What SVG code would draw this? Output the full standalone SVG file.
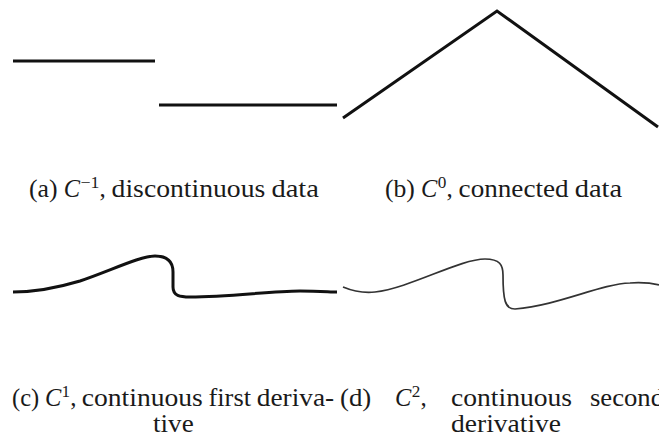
<svg xmlns="http://www.w3.org/2000/svg" width="659" height="436" viewBox="0 0 659 436">
<style>
.cap{font-family:"Liberation Serif","Times New Roman",serif;font-size:25px;fill:#1a1a1a}
.it{font-style:italic}
.sup{font-size:17px}
.thick{fill:none;stroke:#111;stroke-width:3;stroke-linecap:butt}
.thin{fill:none;stroke:#333;stroke-width:1.7}
</style>
<rect width="659" height="436" fill="#fff"/>
<g id="panel-a">
<line class="thick" x1="13" y1="61" x2="155" y2="61"/>
<line class="thick" x1="159" y1="105" x2="337" y2="105"/>
</g>
<g id="panel-b">
<polyline class="thick" stroke-width="2.6" points="343,118 497,11 658,127"/>
</g>
<g id="panel-c">
<path class="thick" d="M13,292 C30,292 50,290 80,281 C110,271 140,256 155,256 C168,256 173,262 173,272 L173,287 C173,296 180,297 190,297 C230,297 270,291 300,291 C320,291 330,292 337,292"/>
</g>
<g id="panel-d">
<path class="thin" d="M343,287 C355,292 365,293 375,292 C410,288 460,259 485,259 C500,259 503,265 503,275 C503,300 505,309 515,309 C560,305 600,284 630,283 C645,282 655,284 659,285"/>
</g>
<g id="captions">
<text class="cap" y="197">
<tspan x="29" textLength="28.6" lengthAdjust="spacingAndGlyphs">(a)</tspan>
<tspan class="it" x="63.7" textLength="16.3" lengthAdjust="spacingAndGlyphs">C</tspan>
<tspan class="sup" x="80.5" dy="-9" textLength="18.9" lengthAdjust="spacingAndGlyphs">−1</tspan>
<tspan x="99.4" dy="9">,</tspan>
<tspan x="111.6" textLength="153.7" lengthAdjust="spacingAndGlyphs">discontinuous</tspan>
<tspan x="271.4" textLength="47.5" lengthAdjust="spacingAndGlyphs">data</tspan>
</text>
<text class="cap" y="197">
<tspan x="385" textLength="29.9" lengthAdjust="spacingAndGlyphs">(b)</tspan>
<tspan class="it" x="421" textLength="16.3" lengthAdjust="spacingAndGlyphs">C</tspan>
<tspan class="sup" x="437.8" dy="-9" textLength="8.6" lengthAdjust="spacingAndGlyphs">0</tspan>
<tspan x="446.4" dy="9">,</tspan>
<tspan x="458.6" textLength="110" lengthAdjust="spacingAndGlyphs">connected</tspan>
<tspan x="574.7" textLength="47.5" lengthAdjust="spacingAndGlyphs">data</tspan>
</text>
<text class="cap" y="406">
<tspan x="12" textLength="27.2" lengthAdjust="spacingAndGlyphs">(c)</tspan>
<tspan class="it" x="45" textLength="16.3" lengthAdjust="spacingAndGlyphs">C</tspan>
<tspan class="sup" x="61.6" dy="-9" textLength="8.6" lengthAdjust="spacingAndGlyphs">1</tspan>
<tspan x="70.2" dy="9">,</tspan>
<tspan x="81.8" textLength="121" lengthAdjust="spacingAndGlyphs">continuous</tspan>
<tspan x="208.5" textLength="42.5" lengthAdjust="spacingAndGlyphs">first</tspan>
<tspan x="256.8" textLength="77.4" lengthAdjust="spacingAndGlyphs">deriva-</tspan>
</text>
<text class="cap" x="153" y="432" textLength="40.7" lengthAdjust="spacingAndGlyphs">tive</text>
<text class="cap" y="406">
<tspan x="340" textLength="31.3" lengthAdjust="spacingAndGlyphs">(d)</tspan>
<tspan class="it" x="395" textLength="16.3" lengthAdjust="spacingAndGlyphs">C</tspan>
<tspan class="sup" x="411.8" dy="-9" textLength="8.6" lengthAdjust="spacingAndGlyphs">2</tspan>
<tspan x="420.4" dy="9">,</tspan>
<tspan x="451" textLength="121" lengthAdjust="spacingAndGlyphs">continuous</tspan>
<tspan x="590" textLength="74" lengthAdjust="spacingAndGlyphs">second</tspan>
</text>
<text class="cap" x="451" y="432" textLength="110" lengthAdjust="spacingAndGlyphs">derivative</text>
</g>
</svg>
